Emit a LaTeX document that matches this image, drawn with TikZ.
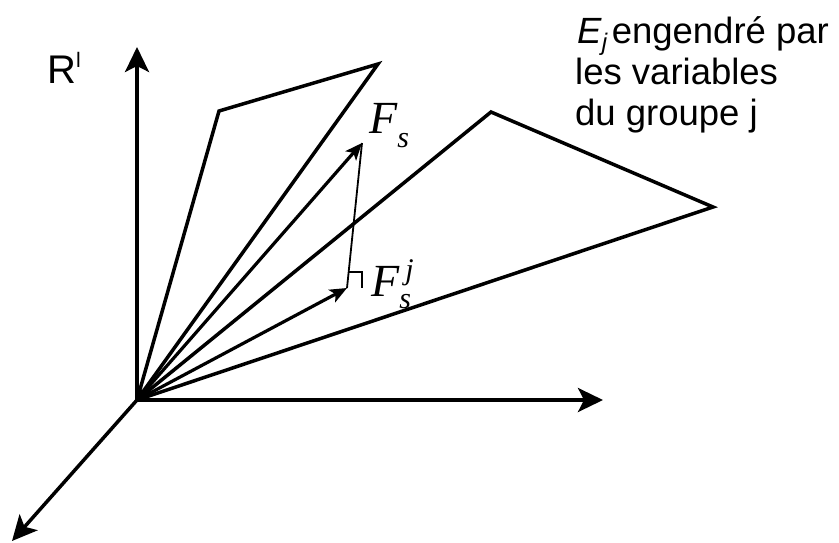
\documentclass[tikz,border=0pt]{standalone}
\usepackage{fontspec}
\setmainfont{Liberation Sans}
\newfontfamily\timesf{Liberation Serif}
\usetikzlibrary{arrows.meta}
\begin{document}
\begin{tikzpicture}[x=1pt,y=-1pt,
  thickline/.style={line width=3.5pt, line cap=butt},
  bigarrow/.style={line width=3.5pt,-{Stealth[length=25pt,width=24pt,inset=6pt]}},
  smallarrow/.style={line width=3.2pt,-{Stealth[length=17pt,width=14pt,inset=4pt]}},
  thinline/.style={line width=1.8pt},
  lbl/.style={inner sep=0pt, anchor=base west},
  sanslbl/.style={lbl, font=\fontsize{36.5}{40}\selectfont},
  flbl/.style={lbl, font=\timesf\itshape\fontsize{46}{46}\selectfont}]
\useasboundingbox (0,0) rectangle (839,542);
\coordinate (O) at (137,400);
\coordinate (Ytip) at (137,47);
\coordinate (Xtip) at (603,400);
\coordinate (Ztip) at (12,541);
\coordinate (A1) at (219,111);
\coordinate (A2) at (378,64);
\coordinate (B1) at (491,112);
\coordinate (B2) at (713,207);
\coordinate (Fs) at (362,143);
\coordinate (Fsj) at (347,288);
\coordinate (Ra) at (348.6,272);
\coordinate (Rb) at (362,272);
\coordinate (Rc) at (362,288);
% axes
\draw[bigarrow] (O) -- (Ytip);
\draw[bigarrow] (O) -- (Xtip);
\draw[bigarrow] (O) -- (Ztip);
% planes
\draw[thickline] (O) -- (A1) -- (A2) -- (O);
\draw[thickline] (O) -- (B1) -- (B2) -- (O);
% vectors
\draw[smallarrow] (O) -- (Fs);
\draw[smallarrow] (O) -- (Fsj);
\draw[thinline] (Fsj) -- (Fs);
\draw[thinline] (Ra) -- (Rb) -- (Rc);
% labels
\node[lbl, font=\fontsize{40}{40}\selectfont] (Rl) at (47,83) {R\raisebox{16pt}{\fontsize{21}{21}\selectfont l}};
\node[sanslbl] (Ej1) at (577,43) {\textit{E}\raisebox{-7pt}{\fontsize{24}{24}\selectfont\textit{j}}\hspace{4pt}engendré par};
\node[sanslbl] (Ej2) at (575,84) {les variables};
\node[sanslbl] (Ej3) at (575,125) {du groupe j};
\node[flbl] (FsL) at (369,133) {F\raisebox{-14pt}{\fontsize{30}{30}\selectfont s}};
\node[flbl] (FsjL) at (371,296) {F\rlap{\raisebox{17pt}{\fontsize{30}{30}\selectfont\hspace{6pt}j}}\raisebox{-12pt}{\fontsize{30}{30}\selectfont s}};
\end{tikzpicture}
\end{document}
